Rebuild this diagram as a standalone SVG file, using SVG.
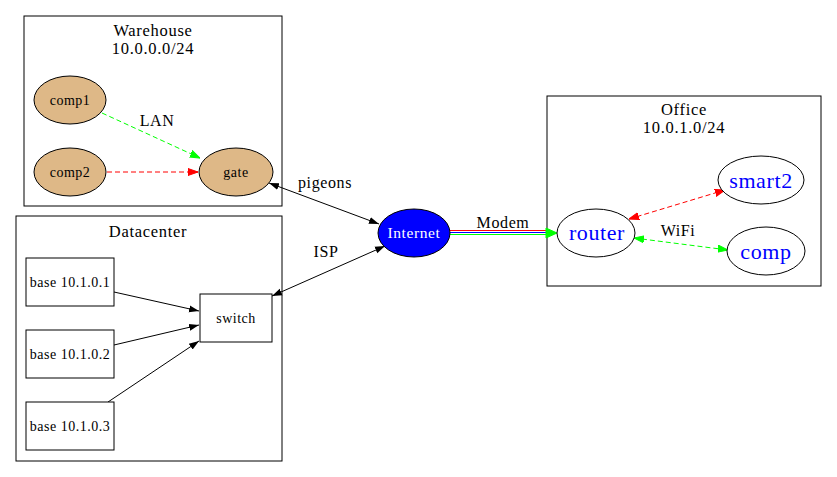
<svg xmlns="http://www.w3.org/2000/svg" width="837" height="477" viewBox="0 0 837 477">
<style>
text{font-family:"Liberation Serif","Times New Roman",serif;text-anchor:middle;fill:#000}
.t{font-size:16.5px;letter-spacing:0.7px}
.l{font-size:16px;letter-spacing:0.6px}
.n{font-size:14px;letter-spacing:0.5px}
.b{font-size:22px;letter-spacing:0.6px;fill:#0000ff}
.cl{fill:none;stroke:#000;stroke-width:1}
.tan{fill:#deb887;stroke:#000}
.box{fill:#fff;stroke:#000}
.e{fill:none;stroke:#000;stroke-width:1}
.dg{fill:none;stroke:#00ff00;stroke-dasharray:5,3}
.dr{fill:none;stroke:#ff0000;stroke-dasharray:5,3}
</style>
<defs>
<marker id="ak" viewBox="0 0 10 10" refX="10" refY="5" markerWidth="10" markerHeight="10" markerUnits="userSpaceOnUse" orient="auto-start-reverse"><path d="M0,1.5 L10,5 L0,8.5 Z" fill="#000"/></marker>
<marker id="ag" viewBox="0 0 10 10" refX="10" refY="5" markerWidth="10" markerHeight="10" markerUnits="userSpaceOnUse" orient="auto-start-reverse"><path d="M0,1.5 L10,5 L0,8.5 Z" fill="#00ff00" stroke="#00ff00"/></marker>
<marker id="ar" viewBox="0 0 10 10" refX="10" refY="5" markerWidth="10" markerHeight="10" markerUnits="userSpaceOnUse" orient="auto-start-reverse"><path d="M0,1.5 L10,5 L0,8.5 Z" fill="#ff0000" stroke="#ff0000"/></marker>
</defs>
<rect width="837" height="477" fill="#fff"/>
<g id="cluster_warehouse">
<rect class="cl" x="24" y="16" width="258" height="190"/>
<text class="t" x="153" y="36">Warehouse</text>
<text class="t" x="153" y="54">10.0.0.0/24</text>
</g>
<g id="cluster_datacenter">
<rect class="cl" x="16" y="216" width="266" height="245"/>
<text class="t" x="148" y="237">Datacenter</text>
</g>
<g id="cluster_office">
<rect class="cl" x="547" y="96" width="274" height="190"/>
<text class="t" x="684" y="115">Office</text>
<text class="t" x="684" y="133">10.0.1.0/24</text>
</g>
<g id="edges">
<path class="dg" d="M102,113 L200,158" marker-end="url(#ag)"/>
<text class="l" x="157" y="126">LAN</text>
<path class="dr" d="M107,172 L198,172" marker-end="url(#ar)"/>
<path class="e" d="M269,183 L379,224" marker-start="url(#ak)" marker-end="url(#ak)"/>
<text class="l" x="325" y="188">pigeons</text>
<path class="e" d="M272,296 L385,246" marker-start="url(#ak)" marker-end="url(#ak)"/>
<text class="l" x="326" y="257">ISP</text>
<path class="e" d="M114,292 L199,311" marker-end="url(#ak)"/>
<path class="e" d="M114,345 L199,325" marker-end="url(#ak)"/>
<path class="e" d="M108,402 L199,341" marker-end="url(#ak)"/>
<path fill="none" stroke="#ff0000" d="M450,230.5 L549,230.5"/>
<path fill="none" stroke="#0000ff" d="M450,232.5 L549,232.5"/>
<path fill="none" stroke="#00ff00" d="M450,234.5 L547,234.5"/>
<path fill="#00ff00" stroke="#00ff00" d="M546,228 L557,233 L546,238 Z"/>
<text class="l" x="503" y="228">Modem</text>
<path class="dr" d="M629,219 L725,190" marker-start="url(#ar)" marker-end="url(#ar)"/>
<path class="dg" d="M634,238 L728,250" marker-start="url(#ag)" marker-end="url(#ag)"/>
<text class="l" x="678" y="236">WiFi</text>
</g>
<g id="comp1"><ellipse class="tan" cx="70" cy="100" rx="36" ry="24"/><text class="n" x="70" y="105">comp1</text></g>
<g id="comp2"><ellipse class="tan" cx="70" cy="172" rx="36" ry="24"/><text class="n" x="70" y="177">comp2</text></g>
<g id="gate"><ellipse class="tan" cx="236" cy="172" rx="37" ry="24"/><text class="n" x="236" y="177">gate</text></g>
<g id="base1"><rect class="box" x="26" y="258" width="88" height="48"/><text class="n" x="70" y="287">base 10.1.0.1</text></g>
<g id="base2"><rect class="box" x="26" y="330" width="88" height="48"/><text class="n" x="70" y="359">base 10.1.0.2</text></g>
<g id="base3"><rect class="box" x="26" y="402" width="88" height="48"/><text class="n" x="70" y="431">base 10.1.0.3</text></g>
<g id="switch"><rect class="box" x="200" y="294" width="72" height="48"/><text class="n" x="236" y="323">switch</text></g>
<g id="internet"><ellipse cx="414" cy="233" rx="36" ry="24" fill="#0000ff" stroke="#000"/><text x="414" y="238" style="fill:#fff;font-size:15.5px;letter-spacing:0.6px">Internet</text></g>
<g id="router"><ellipse class="box" cx="596" cy="233" rx="39" ry="24"/><text class="b" x="597" y="240">router</text></g>
<g id="smart2"><ellipse class="box" cx="761" cy="180" rx="43" ry="24"/><text class="b" x="761" y="188">smart2</text></g>
<g id="comp"><ellipse class="box" cx="766" cy="251" rx="39" ry="24"/><text class="b" x="766" y="259">comp</text></g>
</svg>
